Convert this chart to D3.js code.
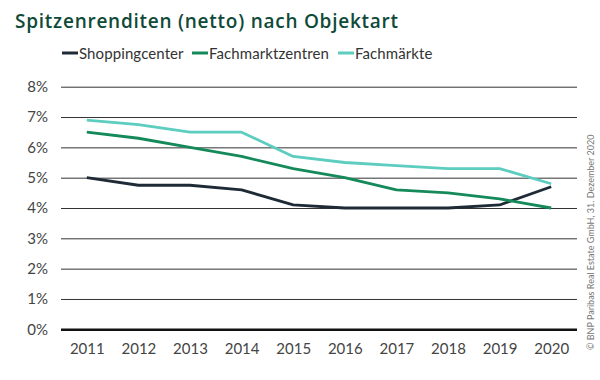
<!DOCTYPE html>
<html><head><meta charset="utf-8">
<script src="https://cdn.jsdelivr.net/npm/d3@7"></script>
<style>
html,body{margin:0;padding:0;background:#fff;}
svg{display:block;font-family:Lato, "Open Sans", sans-serif;}
</style></head>
<body>
<svg id="c" width="600" height="380"></svg>
<script>
const years = ["2011","2012","2013","2014","2015","2016","2017","2018","2019","2020"];
const seriesNames = ["Shoppingcenter","Fachmarktzentren","Fachmärkte"];
const shoppingcenter = [5.0, 4.75, 4.75, 4.6, 4.1, 4.0, 4.0, 4.0, 4.1, 4.7];
const fachmarktzentren = [6.5, 6.3, 6.0, 5.7, 5.3, 5.0, 4.6, 4.5, 4.3, 4.0];
const fachmaerkte = [6.9, 6.75, 6.5, 6.5, 5.7, 5.5, 5.4, 5.3, 5.3, 4.8];
const yTicks = [0,1,2,3,4,5,6,7,8];
const colors = ["#1e2b36","#14895a","#5ccdbf"];
const title = "Spitzenrenditen (netto) nach Objektart";
const source = "© BNP Paribas Real Estate GmbH, 31. Dezember 2020";

const series = [shoppingcenter, fachmarktzentren, fachmaerkte];
const svg = d3.select("#c");

const x = d3.scalePoint().domain(years).range([61, 577]).padding(0.5);
const y = d3.scaleLinear().domain([0, 8]).range([329.3, 86.7]);

// title
svg.append("text").attr("x", 15).attr("y", 28)
  .attr("font-size", 19).attr("font-weight", 600).attr("fill", "#0f4a39")
  .attr("letter-spacing", 0.75)
  .attr("font-family", "'Open Sans', sans-serif")
  .text(title);

// legend
const legX = [62, 192, 338];
seriesNames.forEach((n, i) => {
  const g = svg.append("g");
  g.append("line").attr("x1", legX[i]).attr("x2", legX[i] + 16)
    .attr("y1", 53).attr("y2", 53).attr("stroke", colors[i]).attr("stroke-width", 3);
  g.append("text").attr("x", legX[i] + 17).attr("y", 58.5)
    .attr("font-size", 15).attr("fill", "#333").attr("letter-spacing", 0.1).text(n);
});

// grid + y labels
const yAxis = d3.axisLeft(y).tickValues(yTicks).tickFormat(d => d + "%")
  .tickSize(-(577 - 61)).tickPadding(13);
const ya = svg.append("g").attr("transform", "translate(61,0)").call(yAxis);
ya.select(".domain").remove();
ya.selectAll(".tick line").attr("stroke", "#333").attr("stroke-width", 1);
ya.selectAll(".tick").filter(d => d === 0).select("line").attr("stroke", "#111").attr("stroke-width", 2.5);
ya.selectAll(".tick text").attr("font-size", 15).attr("fill", "#444")
  .attr("font-family", "Lato, sans-serif");

// x labels
const xAxis = d3.axisBottom(x).tickSize(0).tickPadding(12);
const xa = svg.append("g").attr("transform", "translate(0,331)").call(xAxis);
xa.select(".domain").remove();
xa.selectAll(".tick text").attr("font-size", 15).attr("fill", "#444")
  .attr("font-family", "Lato, sans-serif");

// lines
const line = d3.line().x((d, i) => x(years[i])).y(d => y(d));
series.forEach((s, i) => {
  svg.append("path").datum(s).attr("d", line)
    .attr("fill", "none").attr("stroke", colors[i]).attr("stroke-width", 2.8)
    .attr("stroke-linejoin", "round");
});

// source
svg.append("text").attr("transform", "translate(594,350) rotate(-90)")
  .attr("font-size", 9).attr("fill", "#777").text(source);
</script>
</body></html>
